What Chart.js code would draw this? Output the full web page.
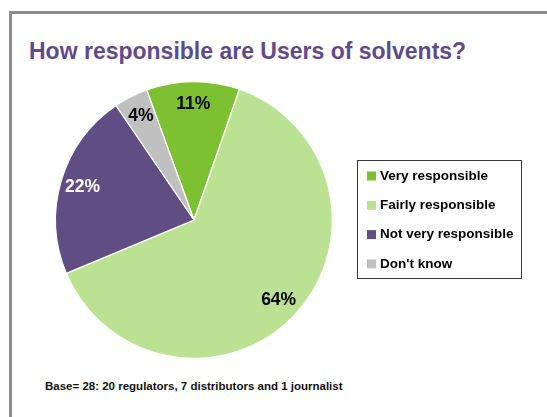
<!DOCTYPE html>
<html>
<head>
<meta charset="utf-8">
<script src="https://cdn.jsdelivr.net/npm/chart.js@4"></script>
<style>
  html, body { margin: 0; padding: 0; background: #ffffff; }
  #wrap { position: relative; width: 547px; height: 417px; overflow: hidden; background: #fff; }
  #frame { position: absolute; left: 9px; top: 11px; width: 600px; height: 500px;
           border-top: 3px solid #8a8a8a; border-left: 3px solid #8a8a8a; }
  #title { position: absolute; left: 29px; top: 38px; margin: 0;
           font-family: "Liberation Sans", Arial, sans-serif; font-weight: bold;
           font-size: 23px; color: #5f4b8b; white-space: nowrap; }
  #foot { position: absolute; left: 45px; top: 380px; margin: 0;
          font-family: "Liberation Sans", Arial, sans-serif; font-weight: bold;
          font-size: 11.5px; color: #111; white-space: nowrap; }
  canvas { position: absolute; left: 0; top: 0; }
</style>
</head>
<body>
<div id="wrap">
  <div id="frame"></div>
  <div id="title">How responsible are Users of solvents?</div>
  <div id="foot">Base= 28: 20 regulators, 7 distributors and 1 journalist</div>
  <canvas id="c" width="547" height="417"></canvas>
</div>
<script>
const categories = ["Very responsible", "Fairly responsible", "Not very responsible", "Don't know"];
const percentValues = [11, 64, 22, 4];
const sliceColors = ["#7dc133", "#bbe293", "#604d84", "#c0c0c0"];
const labelColors = ["#000000", "#000000", "#ffffff", "#000000"];

const FONT = '"Liberation Sans", Arial, sans-serif';

const sliceLabels = {
  id: 'sliceLabels',
  afterDatasetsDraw(chart) {
    const ctx = chart.ctx;
    const meta = chart.getDatasetMeta(0);
    ctx.save();
    ctx.font = 'bold 17.5px ' + FONT;
    ctx.textAlign = 'center';
    ctx.textBaseline = 'middle';
    meta.data.forEach((arc, i) => {
      const p = arc.getProps(['x', 'y', 'startAngle', 'endAngle', 'outerRadius'], true);
      const mid = (p.startAngle + p.endAngle) / 2;
      const r = p.outerRadius * 0.84;
      ctx.fillStyle = labelColors[i];
      ctx.fillText(chart.data.datasets[0].data[i] + '%', p.x + Math.cos(mid) * r, p.y + Math.sin(mid) * r);
    });
    ctx.restore();
  }
};

const boxedLegend = {
  id: 'boxedLegend',
  afterDraw(chart) {
    const ctx = chart.ctx;
    const items = Chart.overrides.pie.plugins.legend.labels.generateLabels(chart);
    const box = { x: 357.5, y: 160.5, w: 164, h: 118 };
    ctx.save();
    ctx.strokeStyle = '#3a3a3a';
    ctx.lineWidth = 1;
    ctx.strokeRect(box.x, box.y, box.w, box.h);
    ctx.font = 'bold 13.5px ' + FONT;
    ctx.textBaseline = 'middle';
    ctx.textAlign = 'left';
    items.forEach((it, i) => {
      const cy = 176 + i * 29.3;
      ctx.fillStyle = it.fillStyle;
      ctx.fillRect(367, cy - 4.5, 9, 9);
      ctx.fillStyle = '#000';
      ctx.fillText(it.text, 380, cy);
    });
    ctx.restore();
  }
};

new Chart(document.getElementById('c'), {
  type: 'pie',
  data: {
    labels: categories,
    datasets: [{
      data: percentValues,
      backgroundColor: sliceColors,
      borderColor: '#ffffff',
      borderWidth: 1.2
    }]
  },
  options: {
    responsive: false,
    animation: false,
    rotation: -20,
    layout: { padding: { left: 55, top: 81, right: 214, bottom: 58 } },
    plugins: {
      legend: { display: false },
      tooltip: { enabled: false },
      title: { display: false }
    }
  },
  plugins: [sliceLabels, boxedLegend]
});
</script>
</body>
</html>
